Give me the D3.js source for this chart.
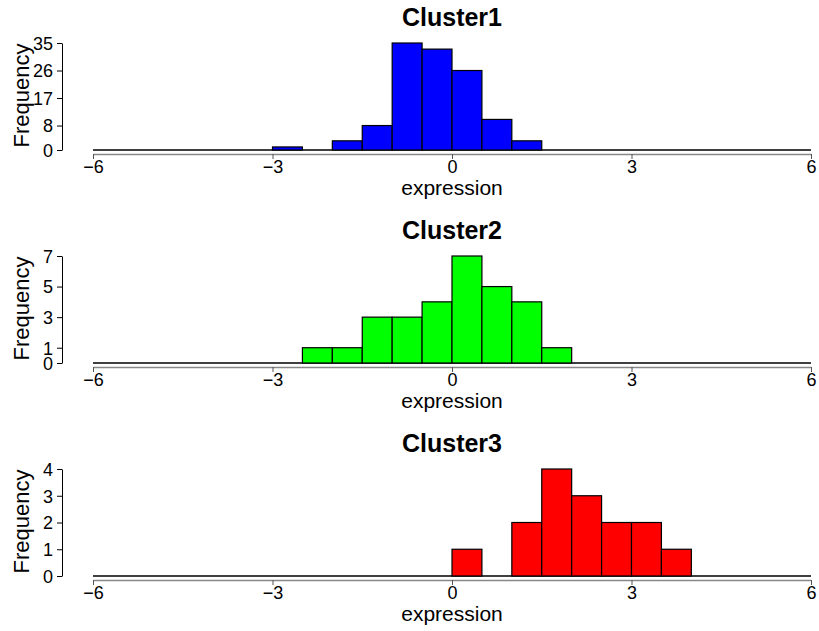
<!DOCTYPE html>
<html>
<head>
<meta charset="utf-8">
<script src="https://cdn.jsdelivr.net/npm/d3@7"></script>
<style>
  body { margin: 0; background: #fff; }
  svg text { font-family: "Liberation Sans", Arial, sans-serif; fill: #000; }
</style>
</head>
<body>
<svg id="chart" width="819" height="631"></svg>
<script>
// histogram bins, 0.5 wide, from -6 to 6
var binStart = -6, binWidth = 0.5;

var clusters = ["Cluster1", "Cluster2", "Cluster3"];
var colors = ["#0000ff", "#00ff00", "#ff0000"];

// counts for each bin, left to right
var counts1 = [0,0,0,0,0,0, 1,0,3,8,35,33, 26,10,3,0,0,0, 0,0,0,0,0,0];
var counts2 = [0,0,0,0,0,0, 0,1,1,3,3,4, 7,5,4,1,0,0, 0,0,0,0,0,0];
var counts3 = [0,0,0,0,0,0, 0,0,0,0,0,0, 1,0,2,4,3,2, 2,1,0,0,0,0];
var allCounts = [counts1, counts2, counts3];

var yTicks = [[0, 8, 17, 26, 35], [0, 1, 3, 5, 7], [0, 1, 2, 3, 4]];
var xTicks = [-6, -3, 0, 3, 6];

var svg = d3.select("#chart");
var panelH = 213;
var margin = {left: 93, top: 43};
var plotW = 811 - 93, plotH = 107;

var x = d3.scaleLinear().domain([-6, 6]).range([0, plotW]);

clusters.forEach(function(name, i) {
    var counts = allCounts[i];
    var bins = counts.map(function(c, j) {
        return {x0: binStart + j * binWidth, x1: binStart + (j + 1) * binWidth, n: c};
    });
    var ymax = yTicks[i][yTicks[i].length - 1];
    var y = d3.scaleLinear().domain([0, ymax]).range([plotH, 0]);

    var g = svg.append("g")
        .attr("transform", "translate(" + margin.left + "," + (margin.top + i * panelH) + ")");

    // title
    g.append("text")
        .attr("x", plotW / 2)
        .attr("y", -17)
        .attr("text-anchor", "middle")
        .style("font-size", "25px")
        .style("font-weight", "bold")
        .text(name);

    // baseline of empty bins
    g.append("line")
        .attr("x1", x(-6)).attr("x2", x(6))
        .attr("y1", y(0)).attr("y2", y(0))
        .attr("stroke", "#000").attr("stroke-width", 1.5);

    // bars
    g.selectAll(".bar")
        .data(bins.filter(function(d) { return d.n > 0; }))
        .enter().append("rect")
        .attr("class", "bar")
        .attr("x", function(d) { return x(d.x0); })
        .attr("width", function(d) { return x(d.x1) - x(d.x0); })
        .attr("y", function(d) { return y(d.n); })
        .attr("height", function(d) { return y(0) - y(d.n); })
        .attr("fill", colors[i])
        .attr("stroke", "#000")
        .attr("stroke-width", 1.2);

    // y axis
    var yAxis = g.append("g")
        .attr("transform", "translate(-31,0)")
        .call(d3.axisLeft(y).tickValues(yTicks[i]).tickSize(5).tickSizeOuter(0).tickFormat(d3.format("d")));
    yAxis.select(".domain").attr("stroke", "#000");
    yAxis.selectAll("text").style("font-size", "18px").attr("dx", "-1").attr("dy", "0.35em");

    g.append("text")
        .attr("transform", "translate(-64," + (plotH / 2 - 1) + ") rotate(-90)")
        .attr("text-anchor", "middle")
        .style("font-size", "22px")
        .text("Frequency");

    // x axis
    var xAxis = g.append("g")
        .attr("transform", "translate(0," + (plotH + 4) + ")")
        .call(d3.axisBottom(x).tickValues(xTicks).tickSize(5).tickSizeOuter(0)
            .tickFormat(function(d) { return d < 0 ? "\u2212" + Math.abs(d) : d; }));
    xAxis.select(".domain").attr("stroke", "#888").attr("stroke-width", 1.3);
    xAxis.selectAll("line").attr("stroke", "#555");
    xAxis.selectAll("text").style("font-size", "18px").attr("dy", "0.6em");

    g.append("text")
        .attr("x", plotW / 2)
        .attr("y", plotH + 45)
        .attr("text-anchor", "middle")
        .style("font-size", "21px")
        .text("expression");
});
</script>
</body>
</html>
